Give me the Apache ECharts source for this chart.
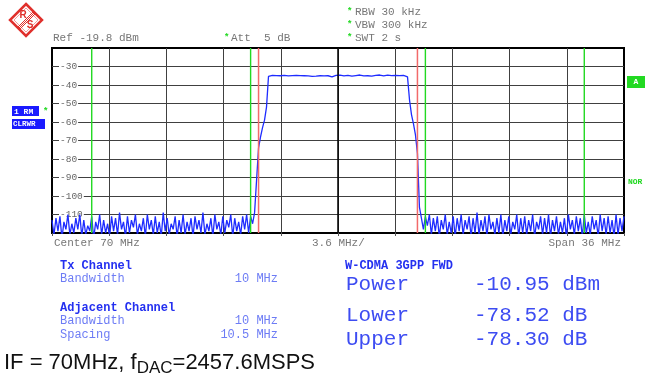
<!DOCTYPE html>
<html>
<head>
<meta charset="utf-8">
<script src="https://cdn.jsdelivr.net/npm/echarts@6/dist/echarts.min.js"></script>
<style>
html,body{margin:0;padding:0;background:#fff;}
#main{width:645px;height:380px;}
</style>
</head>
<body>
<div id="main"></div>
<script>
// sweep: offset from centre (MHz), one point every 0.125 MHz
var traceStart = -18;
var traceStep = 0.125;

// trace levels (dBm)
var lowerNoise = [
    -113,-121,-112,-119,-111,-123,-114,-118,-110,-121,
    -115,-120,-112,-118,-110,-122,-113,-121,-116,-119,
    -111,-123,-114,-118,-110,-121,-113,-120,-115,-122,
    -111,-119,-112,-121,-109,-118,-114,-122,-111,-120,
    -113,-117,-110,-121,-115,-119,-112,-122,-110,-118,
    -113,-121,-111,-120,-114,-122,-109,-119,-112,-121,
    -115,-118,-111,-122,-113,-120,-110,-121,-114,-119,
    -112,-122,-111,-118,-113,-120,-109,-121,-115,-119,
    -112,-122,-110,-118,-114,-121,-111,-120,-113,-117,
    -110,-122,-112,-119,-114,-121,-111,-118,-110,-120,
    -111,-115,-109,-110
];
var riseEdge = [-74,-68,-63,-59,-52];
var carrierTop = [
    -35.4,-35.0,-34.8,-35.1,-34.9,-34.7,-35.0,-35.2,-34.8,-34.9,
    -35.1,-34.6,-34.9,-35.0,-34.8,-35.2,-34.9,-34.7,-35.0,-34.8,
    -35.1,-34.9,-35.3,-35.6,-35.2,-34.9,-35.0,-34.8,-35.1,-34.9,
    -35.0,-35.3,-35.6,-35.1,-34.8,-35.0,-34.7,-34.9,-35.1,-35.0,
    -34.8,-34.9,-35.2,-34.7,-34.9,-35.0,-34.6,-34.8,-35.1,-34.9,
    -35.0,-34.7,-35.2,-34.9,-34.8,-35.0,-34.6,-34.9,-35.1,-34.8,
    -34.7,-35.0,-34.9,-35.2,-34.8,-34.6,-34.9,-35.0,-34.8,-35.1,
    -35.6
];
var fallEdge = [-48,-56,-61,-67,-77];
var upperNoise = [
    -106,-112,-118,-111,-116,-110,-121,-112,-119,-111,
    -122,-113,-118,-110,-121,-114,-120,-111,-122,-112,
    -119,-110,-121,-113,-118,-111,-122,-112,-120,-109,
    -121,-113,-119,-111,-122,-110,-118,-114,-121,-112,
    -120,-110,-122,-113,-119,-111,-121,-114,-118,-110,
    -122,-112,-120,-111,-121,-113,-119,-110,-122,-114,
    -118,-111,-121,-112,-120,-110,-122,-113,-119,-111,
    -121,-114,-120,-112,-122,-110,-118,-113,-121,-111,
    -119,-112,-122,-110,-120,-114,-121,-111,-118,-113,
    -122,-110,-119,-112,-121,-111,-120,-113,-122,-110,
    -121,-112,-119,-111
];

// channel limit lines (MHz offset)
var adjLines = [-15.5, -5.5, 5.5, 15.5];
var txLines = [-5, 5];

var level = [].concat(lowerNoise, riseEdge, carrierTop, fallEdge, upperNoise);
var trace = level.map(function(v, i){
    return [traceStart + i * traceStep, v];
});

var MONO = '"Liberation Mono", "DejaVu Sans Mono", monospace';
var GREY = '#777';
var BLUE = '#2430f0';
var LBLUE = '#6d7cf5';
var GREEN = '#22d922';
var RED = '#f26a6a';

function txt(x, y, s, size, color, weight, align){
    return {
        type: 'text', x: x, y: y, z: 50,
        style: {
            text: s, fill: color,
            font: (weight || 'normal') + ' ' + size + 'px ' + MONO,
            align: align || 'left', textAlign: align || 'left',
            verticalAlign: 'middle', textVerticalAlign: 'middle'
        }
    };
}

// vertical limit line as its own series
function vline(x, color, w){
    return {
        type: 'line', z: 4, symbol: 'none', silent: true,
        data: [[x, -120], [x, -20]],
        lineStyle: {color: color, width: w}
    };
}

var graphics = [
    // R&S logo
    {type:'polygon', shape:{points:[[26,4],[42,20],[26,36],[10,20]]}, style:{fill:'none', stroke:'#e0302c', lineWidth:2.5}},
    {type:'polygon', shape:{points:[[26,8],[38,20],[26,32],[14,20]]}, style:{fill:'none', stroke:'#f08080', lineWidth:0.8}},
    {type:'line', shape:{x1:34, y1:13, x2:19, y2:28}, style:{stroke:'#e0302c', lineWidth:1}},
    {type:'line', shape:{x1:35, y1:14, x2:20, y2:29}, style:{stroke:'#e0302c', lineWidth:1}},
    {type:'line', shape:{x1:33, y1:12, x2:18, y2:27}, style:{stroke:'#e0302c', lineWidth:1}},
    {type:'text', x:23, y:15, style:{text:'R', fill:'#e0302c', font:'bold 10px "Liberation Sans"', align:'center', verticalAlign:'middle', textAlign:'center', textVerticalAlign:'middle'}},
    {type:'text', x:30, y:25, style:{text:'S', fill:'#e0302c', font:'bold 10px "Liberation Sans"', align:'center', verticalAlign:'middle', textAlign:'center', textVerticalAlign:'middle'}},

    // header
    txt(224, 38, '*', 9, GREEN, 'bold'),
    txt(53, 38, 'Ref -19.8 dBm', 11, GREY),
    txt(231, 38, 'Att  5 dB', 11, GREY),
    txt(347, 12, '*', 9, GREEN, 'bold'),
    txt(355, 12, 'RBW 30 kHz', 11, GREY),
    txt(347, 25, '*', 9, GREEN, 'bold'),
    txt(355, 25, 'VBW 300 kHz', 11, GREY),
    txt(347, 38, '*', 9, GREEN, 'bold'),
    txt(355, 38, 'SWT 2 s', 11, GREY),

    // trace boxes
    {type:'rect', shape:{x:12, y:106, width:27, height:10}, style:{fill:'#1a1aff'}},
    txt(14, 111.5, '1 RM', 8, '#fff', 'bold'),
    txt(43, 112, '*', 9, GREEN, 'bold'),
    {type:'rect', shape:{x:12, y:119, width:33, height:10}, style:{fill:'#1a1aff'}},
    txt(13, 124.5, 'CLRWR', 7.5, '#fff', 'bold'),
    {type:'rect', shape:{x:627, y:76, width:18, height:12}, style:{fill:GREEN}},
    txt(636, 82, 'A', 8, '#fff', 'bold', 'center'),
    txt(628, 182, 'NOR', 8, GREEN, 'bold'),

    // x annotations
    txt(54, 243, 'Center 70 MHz', 11, GREY),
    txt(312, 243, '3.6 MHz/', 11, GREY),
    txt(621, 243, 'Span 36 MHz', 11, GREY, 'normal', 'right'),

    // channel table
    txt(60, 266, 'Tx Channel', 12, BLUE, 'bold'),
    txt(60, 279, 'Bandwidth', 12, LBLUE),
    txt(278, 279, '10 MHz', 12, LBLUE, 'normal', 'right'),
    txt(60, 308, 'Adjacent Channel', 12, BLUE, 'bold'),
    txt(60, 321, 'Bandwidth', 12, LBLUE),
    txt(278, 321, '10 MHz', 12, LBLUE, 'normal', 'right'),
    txt(60, 335, 'Spacing', 12, LBLUE),
    txt(278, 335, '10.5 MHz', 12, LBLUE, 'normal', 'right'),

    txt(345, 266, 'W-CDMA 3GPP FWD', 12, BLUE, 'bold'),
    txt(346, 284, 'Power', 21, '#3d4cf2'),
    txt(474, 284, '-10.95 dBm', 21, '#3d4cf2'),
    txt(346, 315, 'Lower', 21, '#3d4cf2'),
    txt(474, 315, '-78.52 dB', 21, '#3d4cf2'),
    txt(346, 339, 'Upper', 21, '#3d4cf2'),
    txt(474, 339, '-78.30 dB', 21, '#3d4cf2'),

    // caption
    {type:'text', x:4, y:352, z:50, style:{
        text:'{a|IF = 70MHz, f}{b|DAC}{a|=2457.6MSPS}',
        fill:'#111',
        rich:{
            a:{fontSize:22, fontFamily:'"Liberation Sans", Arial, sans-serif', lineHeight:22, verticalAlign:'top', fill:'#111'},
            b:{fontSize:17, fontFamily:'"Liberation Sans", Arial, sans-serif', lineHeight:17, padding:[8,0,0,0], verticalAlign:'top', fill:'#111'}
        }
    }}
];

var limitSeries = adjLines.map(function(x){ return vline(x, GREEN, 1.4); })
    .concat(txLines.map(function(x){ return vline(x, RED, 1.5); }));

var myChart = echarts.init(document.getElementById('main'));
var option = {
    animation: false,
    backgroundColor: '#fff',
    grid: {
        left: 52, right: 21, top: 48, bottom: 147,
        show: true, borderColor: '#000', borderWidth: 2, backgroundColor: 'transparent'
    },
    xAxis: {
        type: 'value', min: -18, max: 18, interval: 3.6,
        axisLine: {show: false},
        axisTick: {show: true, length: 3, lineStyle: {color: '#555'}},
        axisLabel: {show: false},
        splitLine: {show: true, showMinLine: false, showMaxLine: false, lineStyle: {color: '#404040', width: 1}}
    },
    yAxis: {
        type: 'value', min: -120, max: -20, interval: 10,
        axisLine: {show: false},
        axisTick: {show: false},
        splitLine: {show: true, showMinLine: false, showMaxLine: false, lineStyle: {color: '#404040', width: 1}},
        axisLabel: {
            inside: true, margin: 7,
            color: '#666', fontFamily: MONO, fontSize: 9.5,
            backgroundColor: '#fff', padding: [0, 1],
            showMinLabel: false, showMaxLabel: false,
            formatter: function(v){ return (v === -20 || v === -120) ? '' : String(v); }
        }
    },
    series: [
        {
            type: 'line', data: trace, z: 3,
            symbol: 'none', clip: true,
            lineStyle: {color: '#1e2cff', width: 1.3}
        },
        vline(0, '#000', 1.5)
    ].concat(limitSeries),
    graphic: graphics
};
myChart.setOption(option);
</script>
</body>
</html>
